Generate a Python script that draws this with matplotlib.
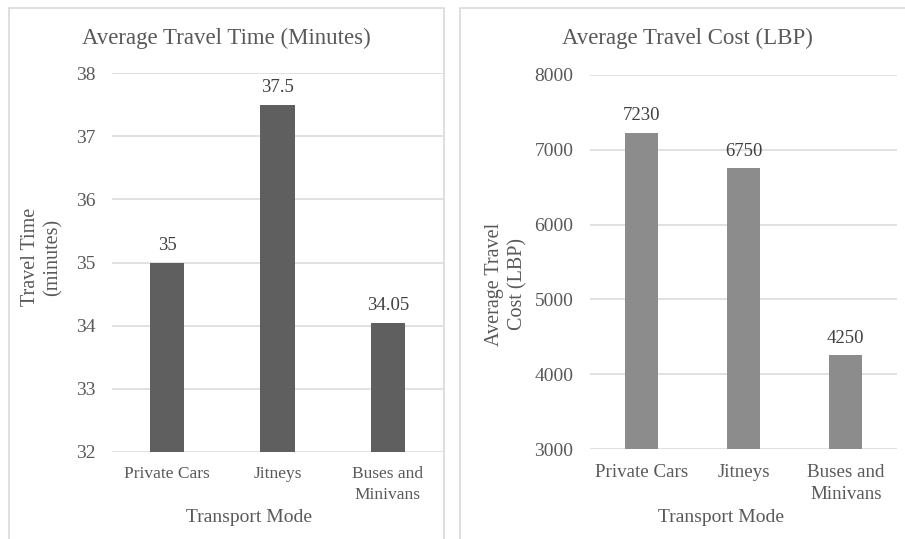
import matplotlib
matplotlib.use("Agg")
import matplotlib.pyplot as plt
from matplotlib.patches import Rectangle

# Data
modes = ["Private Cars", "Jitneys", "Buses and\nMinivans"]
travel_time = [35, 37.5, 34.05]
time_labels = ["35", "37.5", "34.05"]
travel_cost = [7230, 6750, 4250]
cost_labels = ["7230", "6750", "4250"]
time_ticks = [32, 33, 34, 35, 36, 37, 38]
cost_ticks = [3000, 4000, 5000, 6000, 7000, 8000]

plt.rcParams["font.family"] = ["Liberation Serif", "DejaVu Serif"]
TEXT = "#595959"
GRID = "#d9d9d9"

W, H = 905, 539
fig = plt.figure(figsize=(W / 100, H / 100), dpi=100)


def px_axes(x0, y0, x1, y1):
    return fig.add_axes([x0 / W, 1 - y1 / H, (x1 - x0) / W, (y1 - y0) / H])


# Panel frames
for (x0, y0, x1, y1) in [(9, 8, 444, 545), (460, 8, 910, 545)]:
    fig.patches.append(Rectangle((x0 / W, 1 - y1 / H), (x1 - x0) / W, (y1 - y0) / H,
                                 transform=fig.transFigure, fill=False,
                                 edgecolor=GRID, linewidth=1.2))


def style(ax, ticks, xsize, xpad):
    ax.set_ylim(ticks[0], ticks[-1])
    ax.set_yticks(ticks)
    ax.set_xlim(-0.5, 2.5)
    ax.set_xticks(range(len(modes)))
    ax.set_xticklabels(modes, color=TEXT, fontsize=xsize, linespacing=1.4)
    ax.tick_params(axis="both", length=0, labelcolor=TEXT)
    ax.tick_params(axis="y", pad=12, labelsize=14)
    ax.tick_params(axis="x", pad=xpad)
    for s in ax.spines.values():
        s.set_visible(False)
    ax.grid(axis="y", color=GRID, linewidth=1.1)
    ax.set_axisbelow(True)


def label_bars(ax, bars, values, labels):
    for b, v, lab in zip(bars, values, labels):
        ax.annotate(lab, (b.get_x() + b.get_width() / 2, v), xytext=(0, 6),
                    textcoords="offset points", ha="center", va="bottom",
                    fontsize=13.5, color="#404040")


# Left panel: travel time
x0, x1, y0, y1 = 112, 443, 73, 452
ax1 = px_axes(x0, y0, x1, y1)
bars1 = ax1.bar(range(len(modes)), travel_time, width=0.31, color="#5f5f5f")
style(ax1, time_ticks, 12.5, 10)
label_bars(ax1, bars1, travel_time, time_labels)
ax1.set_xlabel("Transport Mode", fontsize=14, color=TEXT)
ax1.xaxis.set_label_coords((249 - x0) / (x1 - x0), (y1 - 518) / (y1 - y0))
ax1.xaxis.label.set_va("center")
ax1.set_ylabel("Travel Time\n(minutes)", fontsize=14.5, color=TEXT, linespacing=1.2)
ax1.yaxis.set_label_coords((42 - x0) / (x1 - x0), (y1 - 257) / (y1 - y0))
ax1.yaxis.label.set_va("center")
fig.text(226 / W, 1 - 38 / H, "Average Travel Time (Minutes)", ha="center",
         va="center", fontsize=16.5, color=TEXT)

# Right panel: travel cost
x0, x1, y0, y1 = 590, 897, 75, 449
ax2 = px_axes(x0, y0, x1, y1)
bars2 = ax2.bar(range(len(modes)), travel_cost, width=0.32, color="#8c8c8c")
style(ax2, cost_ticks, 13.7, 11)
label_bars(ax2, bars2, travel_cost, cost_labels)
ax2.set_xlabel("Transport Mode", fontsize=14, color=TEXT)
ax2.xaxis.set_label_coords((721 - x0) / (x1 - x0), (y1 - 518) / (y1 - y0))
ax2.xaxis.label.set_va("center")
ax2.set_ylabel("Average Travel\nCost (LBP)", fontsize=14.5, color=TEXT, linespacing=1.3)
ax2.yaxis.set_label_coords((506 - x0) / (x1 - x0), (y1 - 284) / (y1 - y0))
ax2.yaxis.label.set_va("center")
fig.text(687 / W, 1 - 38 / H, "Average Travel Cost (LBP)", ha="center",
         va="center", fontsize=16.5, color=TEXT)

fig.savefig("out.png", dpi=100, facecolor="white")
